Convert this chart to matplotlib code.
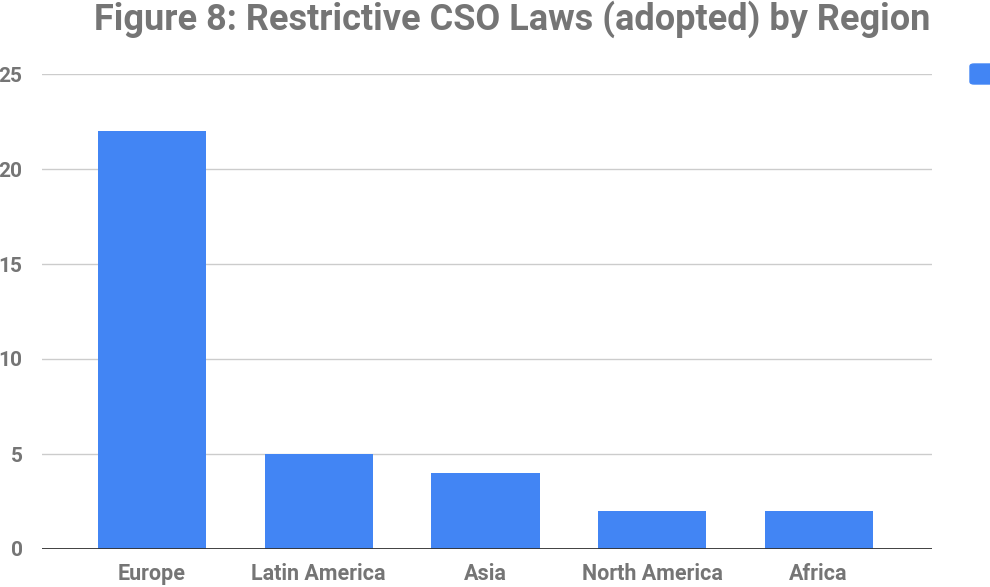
import matplotlib
matplotlib.use("Agg")
import matplotlib.pyplot as plt
from matplotlib.patches import FancyBboxPatch

regions = ["Europe", "Latin America", "Asia", "North America", "Africa"]
laws_adopted = [22, 5, 4, 2, 2]
y_ticks = [0, 5, 10, 15, 20, 25]

bar_color = "#4285F4"
text_color = "#757575"

plt.rcParams["font.family"] = ["Roboto", "DejaVu Sans"]

W, H = 990, 587
fig = plt.figure(figsize=(W / 100, H / 100), dpi=100)
ax = fig.add_axes([42 / W, (H - 549) / H, (932 - 42) / W, (549 - 74) / H])

x = list(range(len(regions)))
ax.bar(x, laws_adopted, width=0.65, color=bar_color, zorder=3)

ax.set_xlim(-0.66, len(regions) - 1 + 0.68)
ax.set_ylim(0, 25)
ax.set_yticks(y_ticks)
ax.set_yticklabels([str(t) for t in y_ticks])
ax.set_xticks(x)
ax.set_xticklabels(regions)

ax.grid(axis="y", color="#cccccc", linewidth=1, zorder=0)
ax.axhline(0, color="#333333", linewidth=1.3, zorder=4)
for s in ax.spines.values():
    s.set_visible(False)
ax.tick_params(axis="both", length=0, labelcolor=text_color)
ax.tick_params(axis="y", pad=14, labelsize=15)
ax.tick_params(axis="x", pad=10, labelsize=15.5)
for lbl in ax.get_xticklabels() + ax.get_yticklabels():
    lbl.set_fontweight("bold")

fig.text(512 / W, 1 - 19 / H, "Figure 8: Restrictive CSO Laws (adopted) by Region",
         ha="center", va="center", fontsize=26, fontweight="bold", color=text_color)

# legend swatch, partly outside the canvas on the right
fig.patches.append(FancyBboxPatch((970 / W, 1 - 84 / H), 24 / W, 20 / H,
                                  boxstyle="round,pad=0,rounding_size=0.004",
                                  transform=fig.transFigure, color=bar_color))

fig.savefig("out.png", dpi=100)
